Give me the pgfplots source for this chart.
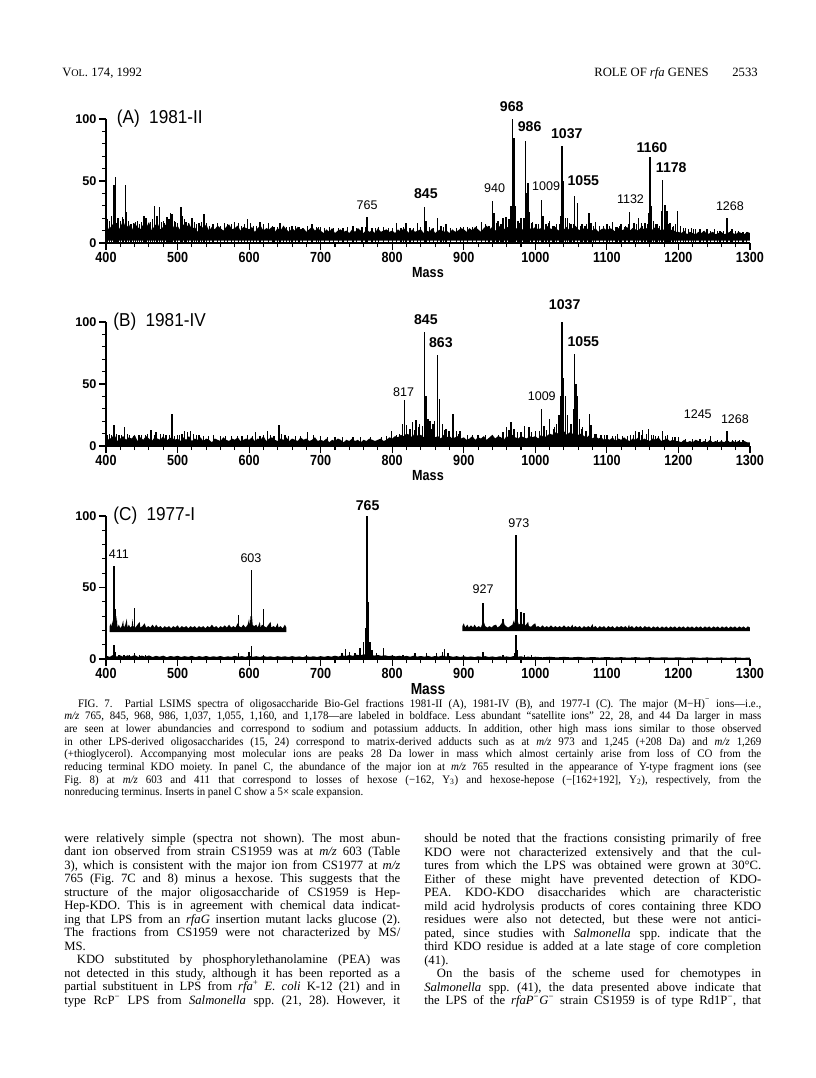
\documentclass[border=0pt]{standalone}
\usepackage{fontspec}
\usepackage{pgfplots}
\pgfplotsset{compat=1.18}
\setmainfont{Liberation Serif}
\newfontfamily\csans[FakeStretch=0.86]{Liberation Sans}
\newfontfamily\tsans[FakeStretch=0.92]{Liberation Sans}
\newfontfamily\nsans{Liberation Sans}
\newfontfamily\capserif[FakeStretch=0.95]{Liberation Serif}
\newcommand{\lb}{\nsans\bfseries\fontsize{10.6}{11}\selectfont}
\newcommand{\lr}{\nsans\fontsize{9.4}{10}\selectfont}
\newcommand{\ttl}{\tsans\fontsize{14}{15}\selectfont}
\frenchspacing
\pgfplotsset{
  spec/.style={
    scale only axis, width=483pt,
    xmin=400, xmax=1300, ymin=0, ymax=100,
    axis x line*=bottom, axis y line*=left,
    axis line style={line width=1.1pt},
    xtick={400,500,...,1300}, minor x tick num=4,
    ytick={0,50,100}, minor y tick num=4,
    tick align=outside, major tick length=5pt, minor tick length=3pt,
    tick style={line width=0.8pt, black},
    /pgf/number format/1000 sep={},
    /pgf/number format/assume math mode=true,
    xticklabel style={font=\csans\bfseries\fontsize{11}{12}\selectfont, inner sep=1.5pt},
    yticklabel style={font=\nsans\bfseries\fontsize{9.5}{10}\selectfont, inner sep=2pt},
    clip=false, unbounded coords=jump,
  },
  band/.style={fill=black, draw=none},
  peaks/.style={ycomb, mark=none, line width=1.05pt, black},
  fine/.style={ycomb, mark=none, line width=0.6pt, black},
  spikes/.style={mark=none, line width=1.05pt, black},
}
\begin{document}
\begin{tikzpicture}
\fill[white] (0,0) rectangle (612pt,-808.5pt);
\useasboundingbox (0,0) rectangle (612pt,-808.5pt);
% header
\node[anchor=base west, inner sep=0, font=\fontsize{9.5}{11}\selectfont] at (46.5pt,-57pt) {V{\fontsize{7.6}{9}\selectfont OL}. 174, 1992};
\node[anchor=base east, inner sep=0, font=\fontsize{9.5}{11}\selectfont] at (531.75pt,-57pt) {ROLE OF \textit{rfa} GENES};
\node[anchor=base east, inner sep=0, font=\fontsize{9.5}{11}\selectfont] at (568.5pt,-57pt) {2533};

% ---------------- Panel A
\begin{axis}[spec, at={(79.5pt,-182.25pt)}, anchor=south west, height=93pt]
\addplot[band] coordinates {(400,2)(400,16)(404,11)(408,14)(412,17)(416,9)(420,13)(424,18)(428,12)(432,15)(436,10)(440,16)(444,13)(448,11)(452,15)(456,12)(460,17)(464,10)(468,14)(472,16)(476,11)(480,13)(484,15)(488,12)(492,16)(496,11)
(500,14)(504,10)(508,15)(512,12)(516,16)(520,11)(524,13)(528,9)(532,14)(536,12)(540,15)(544,10)(548,13)(552,11)(556,14)(560,12)(564,10)(568,13)(572,15)(576,11)(580,12)(584,14)(588,10)(592,13)(596,12)
(600,11)(604,13)(608,9)(612,12)(616,14)(620,10)(624,12)(628,11)(632,13)(636,9)(640,12)(644,10)(648,14)(652,11)(656,9)(660,12)(664,10)(668,13)(672,11)(676,12)(680,9)(684,11)(688,13)(692,10)(696,12)
(700,10)(704,8)(708,11)(712,9)(716,12)(720,8)(724,10)(728,11)(732,9)(736,10)(740,8)(744,11)(748,9)(752,12)(756,10)(760,8)(764,11)(768,9)(772,10)(776,8)(780,12)(784,9)(788,10)(792,11)(796,9)
(800,10)(804,8)(808,11)(812,9)(816,12)(820,10)(824,8)(828,11)(832,9)(836,10)(840,11)(844,8)(848,10)(852,9)(856,12)(860,8)(864,10)(868,11)(872,9)(876,10)(880,8)(884,11)(888,9)(892,10)(896,12)
(900,11)(904,9)(908,12)(912,10)(916,13)(920,11)(924,9)(928,12)(932,14)(936,11)(940,13)(944,10)(948,12)(952,15)(956,11)(960,13)(964,12)(968,14)(972,11)(976,13)(980,12)(984,10)(988,14)(992,12)(996,11)
(1000,13)(1004,11)(1008,12)(1012,10)(1016,14)(1020,12)(1024,11)(1028,13)(1032,10)(1036,12)(1040,11)(1044,13)(1048,10)(1052,12)(1056,14)(1060,11)(1064,10)(1068,12)(1072,11)(1076,13)(1080,10)(1084,12)(1088,9)(1092,11)(1096,12)
(1100,10)(1104,12)(1108,11)(1112,9)(1116,12)(1120,10)(1124,11)(1128,13)(1132,10)(1136,12)(1140,11)(1144,10)(1148,13)(1152,11)(1156,12)(1160,10)(1164,11)(1168,13)(1172,12)(1176,10)(1180,11)(1184,12)(1188,10)(1192,11)(1196,9)
(1200,9)(1204,8)(1208,10)(1212,7)(1216,9)(1220,8)(1224,7)(1228,9)(1232,8)(1236,10)(1240,7)(1244,8)(1248,9)(1252,7)(1256,8)(1260,9)(1264,7)(1268,8)(1272,9)(1276,8)(1280,7)(1284,9)(1288,8)(1292,7)(1296,9)(1300,8)(1300,2)};
\addplot[fine] coordinates {(402,19)(407,17)(414,16)(418,20)(425,19)(431,18)(438,16)(444,18)(447,15)(450,17)(459,16)(465,19)(478,17)(482,16)(495,18)(500,16)(510,19)(515,16)(524,17)(527,15)(533,17)(540,16)(548,15)(556,16)(560,14)(575,15)(585,16)(593,15)(602,16)(610,14)(620,15)(632,14)(639,13)(648,14)(656,13)(665,14)(675,12)(681,14)(697,13)(705,12)(712,13)(725,12)(738,13)(750,12)(762,13)(776,12)(788,13)(800,12)(815,13)(829,12)(840,13)(857,12)(871,13)(882,12)(895,13)(900,13)(918,14)(930,15)(945,16)(958,18)(978,16)(995,16)(1004,15)(1018,16)(1024,14)(1033,15)(1048,16)(1053,15)(1068,14)(1072,15)(1081,14)(1095,14)(1104,14)(1112,13)(1117,14)(1124,13)(1130,15)(1141,15)(1150,14)(1156,15)(1168,15)(1173,14)(1186,15)(1191,13)(1196,15)(1207,12)(1214,11)(1221,11)(1235,10)(1245,10)(1255,10)(1263,10)(1272,10)(1284,10)(1295,9)};
\addplot[peaks] coordinates {(405,18)(408,22)(411,47)(413,53)(416,20)(420,18)(423,21)(427,47)(429,25)(435,15)(441,17)(453,22)(456,20)(462,17)(468,30)(471,22)(475,29)(480,18)(485,21)(488,19)(490,24)(492,23)(497,17)(505,29)(507,22)(512,17)(520,20)(530,16)(537,23)(545,14)(550,15)(566,16)(570,15)(580,17)(589,14)(598,19)(606,14)(615,17)(627,16)(635,13)(643,16)(652,13)(660,14)(670,13)(688,15)(694,13)(700,13)(718,12)(731,12)(745,14)(758,13)(765,21)(772,12)(781,13)(795,12)(806,16)(812,12)(819,16)(825,12)(835,16)(845,29)(847,18)(852,13)(863,20)(868,14)(875,15)(890,12)(905,13)(912,13)(925,17)(935,14)(940,34)(942,24)(948,18)(952,15)(955,20)(959,21)(963,19)(966,30)(968,100)(970,85)(972,30)(976,18)(980,20)(984,20)(986,82)(988,40)(990,48)(992,25)(996,17)(1001,15)(1009,35)(1011,22)(1015,15)(1020,18)(1026,14)(1030,15)(1035,22)(1037,78)(1039,50)(1042,20)(1045,20)(1050,15)(1055,38)(1059,32)(1063,14)(1065,15)(1070,14)(1075,24)(1078,16)(1084,17)(1090,14)(1100,15)(1108,17)(1114,13)(1120,15)(1126,14)(1132,25)(1138,16)(1144,20)(1148,16)(1153,16)(1158,24)(1160,69)(1162,30)(1165,18)(1170,15)(1176,26)(1178,51)(1181,31)(1184,26)(1188,16)(1193,14)(1199,26)(1203,14)(1210,12)(1218,12)(1224,11)(1230,11)(1240,11)(1250,11)(1258,10)(1268,20)(1275,11)(1280,10)(1290,9)};
\node[anchor=west, font=\ttl, inner sep=0] at (axis cs:415,100) {(A)\hspace{7pt}1981-II};
\node[font=\lr] at (axis cs:765,30.6) {765};
\node[font=\lb] at (axis cs:847,39.5) {845};
\node[font=\lr] at (axis cs:943,44) {940};
\node[font=\lb] at (axis cs:967,109.7) {968};
\node[font=\lb] at (axis cs:992,93.5) {986};
\node[font=\lr] at (axis cs:1015,46) {1009};
\node[font=\lb] at (axis cs:1044,88) {1037};
\node[font=\lb] at (axis cs:1067,50) {1055};
\node[font=\lr] at (axis cs:1133,35.5) {1132};
\node[font=\lb] at (axis cs:1163,76.7) {1160};
\node[font=\lb] at (axis cs:1190,60.4) {1178};
\node[font=\lr] at (axis cs:1272,29.8) {1268};
\node[font=\csans\bfseries\fontsize{11}{12}\selectfont] at (axis cs:850,-24.2) {Mass};
\end{axis}

% ---------------- Panel B
\begin{axis}[spec, at={(79.5pt,-334.5pt)}, anchor=south west, height=93pt]
\addplot[band] coordinates {(400,1)(400,8)(404,5)(408,7)(412,9)(416,4)(420,6)(424,8)(428,5)(432,7)(436,6)(440,9)(444,4)(448,7)(452,5)(456,8)(460,6)(464,4)(468,7)(472,6)(476,5)(480,8)(484,4)(488,6)(492,7)(496,5)
(500,6)(504,4)(508,7)(512,5)(516,8)(520,4)(524,6)(528,5)(532,7)(536,4)(540,6)(544,5)(548,3)(552,6)(556,5)(560,4)(564,7)(568,5)(572,4)(576,6)(580,5)(584,7)(588,4)(592,5)(596,6)
(600,5)(604,7)(608,4)(612,6)(616,5)(620,8)(624,4)(628,6)(632,7)(636,5)(640,4)(644,6)(648,5)(652,7)(656,4)(660,6)(664,5)(668,4)(672,7)(676,5)(680,6)(684,4)(688,5)(692,7)(696,4)
(700,5)(704,4)(708,6)(712,3)(716,5)(720,4)(724,6)(728,5)(732,3)(736,5)(740,4)(744,6)(748,4)(752,5)(756,3)(760,5)(764,4)(768,6)(772,5)(776,4)(780,5)(784,6)(788,4)(792,5)(796,7)
(800,6)(804,8)(808,7)(812,9)(816,8)(820,10)(824,9)(828,7)(832,11)(836,8)(840,9)(844,7)(848,10)(852,8)(856,9)(860,7)(864,8)(868,6)(872,9)(876,7)(880,8)(884,6)(888,7)(892,8)(896,6)
(900,7)(904,5)(908,6)(912,8)(916,5)(920,7)(924,6)(928,8)(932,5)(936,7)(940,9)(944,6)(948,8)(952,7)(956,5)(960,8)(964,6)(968,9)(972,7)(976,6)(980,8)(984,7)(988,6)(992,8)(996,7)
(1000,8)(1004,6)(1008,9)(1012,7)(1016,8)(1020,10)(1024,9)(1028,11)(1032,10)(1036,8)(1040,12)(1044,9)(1048,11)(1052,10)(1056,8)(1060,9)(1064,10)(1068,8)(1072,7)(1076,9)(1080,6)(1084,8)(1088,6)(1092,7)(1096,5)
(1100,6)(1104,5)(1108,7)(1112,4)(1116,6)(1120,5)(1124,7)(1128,5)(1132,4)(1136,6)(1140,5)(1144,7)(1148,4)(1152,6)(1156,5)(1160,4)(1164,6)(1168,5)(1172,7)(1176,4)(1180,5)(1184,6)(1188,4)(1192,5)(1196,4)
(1200,4)(1204,3)(1208,5)(1212,3)(1216,4)(1220,3)(1224,5)(1228,4)(1232,3)(1236,4)(1240,3)(1244,5)(1248,3)(1252,4)(1256,3)(1260,4)(1264,3)(1268,5)(1272,3)(1276,4)(1280,3)(1284,4)(1288,3)(1292,4)(1296,3)(1300,3)(1300,1)};
\addplot[fine] coordinates {(402,9)(408,9)(415,10)(422,9)(430,10)(438,8)(450,9)(458,10)(467,9)(480,10)(488,9)(496,8)(503,9)(522,10)(527,9)(536,8)(550,9)(567,8)(583,8)(597,9)(604,8)(620,9)(630,9)(645,10)(655,8)(672,8)(690,9)(710,7)(730,7)(755,7)(792,8)(810,10)(831,13)(836,15)(855,14)(873,13)(878,12)(893,10)(912,9)(930,9)(948,9)(975,11)(995,11)(1005,12)(1027,15)(1064,14)(1072,12)(1082,10)(1096,9)(1112,8)(1128,8)(1137,9)(1148,9)(1162,9)(1168,8)(1182,8)(1192,7)(1200,7)(1220,6)(1238,6)(1260,5)(1275,5)(1285,5)};
\addplot[peaks] coordinates {(405,10)(411,17)(418,9)(426,15)(433,9)(446,9)(455,9)(463,13)(470,11)(476,10)(484,9)(492,26)(500,9)(506,10)(510,12)(514,11)(518,12)(530,9)(543,8)(560,8)(575,8)(590,8)(609,11)(615,8)(626,12)(635,8)(642,17)(650,9)(665,8)(682,11)(700,8)(720,7)(745,7)(770,7)(785,7)(799,12)(806,9)(814,18)(817,37)(820,17)(825,14)(828,19)(833,21)(838,18)(842,16)(845,92)(847,40)(850,22)(853,20)(857,18)(859,20)(863,73)(866,38)(870,18)(875,14)(880,12)(885,26)(890,12)(895,12)(905,9)(920,9)(940,9)(955,11)(960,15)(963,13)(966,19)(970,14)(980,11)(985,16)(991,15)(1000,12)(1009,30)(1012,16)(1016,13)(1020,22)(1025,14)(1030,18)(1033,25)(1035,40)(1037,100)(1039,55)(1042,40)(1045,25)(1050,18)(1053,30)(1055,74)(1057,50)(1059,40)(1062,22)(1066,15)(1070,12)(1076,26)(1078,17)(1085,10)(1092,9)(1100,9)(1108,8)(1115,10)(1122,8)(1133,9)(1140,12)(1145,11)(1150,13)(1155,10)(1158,14)(1165,9)(1172,8)(1178,12)(1185,9)(1195,7)(1210,6)(1230,6)(1245,8)(1255,5)(1268,12)(1280,5)(1290,5)};
\node[anchor=west, font=\ttl, inner sep=0] at (axis cs:410,100) {(B)\hspace{7pt}1981-IV};
\node[font=\lb] at (axis cs:847,101.6) {845};
\node[font=\lb] at (axis cs:1041,113.7) {1037};
\node[font=\lb] at (axis cs:868,83) {863};
\node[font=\lb] at (axis cs:1067,84) {1055};
\node[font=\lr] at (axis cs:816,43.8) {817};
\node[font=\lr] at (axis cs:1009,40.3) {1009};
\node[font=\lr] at (axis cs:1227,25.3) {1245};
\node[font=\lr] at (axis cs:1279,21.8) {1268};
\node[font=\csans\bfseries\fontsize{11}{12}\selectfont] at (axis cs:850,-24.2) {Mass};
\end{axis}

% ---------------- Panel C
\begin{axis}[spec, at={(79.5pt,-494.25pt)}, anchor=south west, height=107.25pt]
\addplot[band] coordinates {(400,0.3)(400,2.4)(405,1.5)(410,2.8)(415,1.7)(420,2.5)(425,1.4)(430,2.6)(435,1.8)(440,2.7)(445,1.5)(450,2.4)(455,1.6)(460,2.5)(465,1.4)(470,2.2)(475,1.6)(480,2.3)(485,1.3)(490,2.1)(495,1.6)
(500,2.2)(505,1.4)(510,2.0)(515,1.5)(520,2.2)(525,1.3)(530,2.0)(535,1.5)(540,2.1)(545,1.4)(550,1.9)(555,1.5)(560,2.1)(565,1.3)(570,1.9)(575,1.5)(580,2.2)(585,1.6)(590,2.0)(595,1.4)
(600,2.3)(605,1.5)(610,2.0)(615,1.4)(620,2.1)(625,1.5)(630,1.9)(635,1.3)(640,2.0)(645,1.5)(650,1.9)(655,1.4)(660,2.0)(665,1.5)(670,1.8)(675,1.3)(680,2.0)(685,1.5)(690,1.9)(695,1.4)
(700,2.0)(705,1.5)(710,2.1)(715,1.6)(720,2.3)(725,1.7)(730,2.6)(735,2.0)(740,2.8)(745,2.2)(750,3.0)(755,2.5)(760,3.2)(765,3.5)(770,3.0)(775,2.4)(780,2.8)(785,2.2)(790,2.6)(795,2.0)
(800,2.4)(805,1.8)(810,2.3)(815,1.7)(820,2.2)(825,1.6)(830,2.3)(835,1.7)(840,2.1)(845,1.6)(850,2.2)(855,1.5)(860,2.1)(865,1.7)(870,2.4)(875,1.8)(880,2.1)(885,1.5)(890,2.0)(895,1.4)
(900,1.9)(905,1.4)(910,1.8)(915,1.3)(920,1.9)(925,1.5)(930,2.0)(935,1.4)(940,1.8)(945,1.3)(950,1.9)(955,1.5)(960,1.8)(965,1.4)(970,2.1)(975,1.6)(980,1.9)(985,1.3)(990,1.7)(995,1.2)
(1000,1.6)(1010,1.2)(1020,1.6)(1030,1.1)(1040,1.5)(1050,1.1)(1060,1.5)(1070,1.0)(1080,1.4)(1090,1.0)(1100,1.4)(1110,1.0)(1120,1.3)(1130,0.9)(1140,1.3)(1150,0.9)(1160,1.3)(1170,0.9)(1180,1.2)(1190,0.9)
(1200,1.2)(1210,0.8)(1220,1.2)(1230,0.8)(1240,1.1)(1250,0.8)(1260,1.1)(1270,0.8)(1280,1.1)(1290,0.8)(1300,1.0)(1300,0.3)};
\addplot[peaks] coordinates {(411,10)(413,5)(418,3)(425,3)(433,3)(440,4)(447,3)(455,2.5)(585,4)(600,5)(603,9)(620,3)(680,3)(730,4)(735,7)(740,5)(748,4)(755,8)(760,12)(763,22)(764,60)(764.5,85)(765,100)(765.5,90)(766,40)(767,30)(769,12)(772,6)(778,4)(788,8)(800,3)(815,3)(832,4)(848,4)(862,4)(870,5)(873,7)(878,4)(900,3)(927,5)(955,3)(971,4)(973,17)(975,6)(985,3)(995,3)};
% insert left (5x)
\addplot[band] coordinates {(405,18.8)(405,23)(407,25)(408,22)(409,27)(410,23)(411,24)(412.5,35)(413.5,23)(415,30)(416,22)(418,24)(420,21.5)(422,23)(424,27)(425,22)(427,24)(429,28)(430,22)(432,24)(434,22)(436,23)(437,28)(438,23)(441,22)(444,24)(447,26)(448,22)(451,23)(454,25)(456,22)(459,23)(462,22)(465,24)(468,22)(470,24)(473,22)(476,23)(479,21.5)(482,23)(485,22)(488,23)(491,21.5)(494,23)(497,22)(500,23.5)(503,21.5)(506,23)(509,22)(512,23)(515,21.5)(518,23)(521,22)(524,23)(527,21.5)(530,23)(533,22)(536,23)(539,21.5)(542,23)(545,22)(548,24)(551,22)(554,23)(557,21.5)(560,23)(563,22)(566,23.5)(569,22)(572,24)(575,22)(578,23)(581,22)(584,25)(586,23)(589,22)(592,24)(595,22)(598,24)(600,28)(601,23)(602,30)(604,30)(605,24)(607,23)(610,24)(612,22)(615,26)(616,22)(618,24)(621,23)(624,22)(627,24)(630,26)(631,22)(634,23)(637,22)(640,25)(641,22)(644,23)(647,21.5)(650,24)(652,22)(652,18.8)};
\addplot[spikes] coordinates {(411,22)(411,65) (411,nan) (413,22)(413,35) (413,nan) (440,22)(440,36) (440,nan) (585,22)(585,31) (585,nan) (603,22)(603,62) (603,nan) (620,22)(620,35)};
% insert right (5x)
\addplot[band] coordinates {(898,19.5)(898,23)(900,25)(902,22)(905,24)(907,22)(910,23.5)(913,22)(915,24)(918,22)(921,23)(924,22)(926,25)(928,26)(930,23)(933,22)(936,23)(939,22)(942,23.5)(945,24)(947,22)(950,23)(953,25)(955,28)(957,24)(959,23)(962,22)(965,23)(968,24)(970,27)(971,24)(972,30)(974,35)(975,27)(977,24)(979.5,25)(980,33)(981,24)(983.5,25)(984,32)(985,23)(987,24)(990,26)(991,23)(994,22.5)(997,24)(1000,25)(1001,22.5)(1004,23)(1007,22)(1010,23.5)(1013,22)(1016,23)(1019,22)(1022,23.5)(1025,22)(1028,23)(1031,22)(1034,23)(1037,22)(1040,23.5)(1043,22)(1046,23)(1049,22)(1052,24)(1053,22)(1056,23)(1059,22)(1062,23)(1065,21.5)(1068,23)(1071,22)(1074,23)(1077,22)(1080,24.5)(1081,22)(1084,23)(1087,21.5)(1090,23)(1093,22)(1096,23)(1099,21.5)(1102,23)(1105,22)(1108,23)(1111,21.5)(1114,23)(1117,22)(1120,23)(1123,22)(1126,23)(1129,21.5)(1131,24)(1132,22)(1135,23)(1138,21.5)(1141,23)(1144,22)(1147,23)(1150,21.5)(1153,23)(1156,22)(1159,22.8)(1162,21.5)(1165,22.8)(1168,21.8)(1171,22.8)(1174,21.5)(1177,22.8)(1180,21.8)(1183,22.8)(1186,21.5)(1189,22.8)(1192,21.8)(1195,22.8)(1198,21.5)(1201,22.8)(1204,21.8)(1207,22.8)(1210,21.5)(1213,22.8)(1216,21.8)(1219,22.8)(1222,21.5)(1225,22.8)(1228,21.8)(1231,22.8)(1234,21.5)(1237,22.8)(1240,21.8)(1243,22.8)(1246,21.5)(1249,22.8)(1252,21.8)(1255,22.8)(1258,21.5)(1261,22.8)(1264,21.8)(1267,22.8)(1270,21.5)(1273,22.8)(1276,21.8)(1279,22.8)(1282,21.5)(1285,22.8)(1288,21.8)(1291,22.8)(1294,21.5)(1297,22.8)(1300,22)(1300,19.5)};
\addplot[spikes] coordinates {(927,22)(927,39) (927,nan) (955,22)(955,28) (955,nan) (973,22)(973,87) (973,nan) (974.5,22)(974.5,35) (974.5,nan) (980,22)(980,33) (980,nan) (984,22)(984,32)};
\node[anchor=west, font=\ttl, inner sep=0] at (axis cs:410,100) {(C)\hspace{7pt}1977-I};
\node[font=\lb] at (axis cs:765.6,107.2) {765};
\node[font=\lr] at (axis cs:977,94.9) {973};
\node[font=\lr] at (axis cs:418,73.2) {411};
\node[font=\lr] at (axis cs:602.6,70.4) {603};
\node[font=\lr] at (axis cs:927,49) {927};
\node[font=\csans\bfseries\fontsize{12}{13}\selectfont] at (axis cs:850,-21) {Mass};
\end{axis}

% caption
\node[anchor=north west, inner sep=0, text width=522.75pt, align=justify, font=\capserif\fontsize{8.6}{9.5}\selectfont] at (48pt,-524pt) {%
\hspace*{1.2em}FIG. 7.\ \ Partial LSIMS spectra of oligosaccharide Bio-Gel fractions 1981-II (A), 1981-IV (B), and 1977-I (C). The major (M−H)\textsuperscript{−} ions—i.e.,\linebreak
\textit{m/z} 765, 845, 968, 986, 1,037, 1,055, 1,160, and 1,178—are labeled in boldface. Less abundant “satellite ions” 22, 28, and 44 Da larger in mass\linebreak
are seen at lower abundancies and correspond to sodium and potassium adducts. In addition, other high mass ions similar to those observed\linebreak
in other LPS-derived oligosaccharides (15, 24) correspond to matrix-derived adducts such as at \textit{m/z} 973 and 1,245 (+208 Da) and \textit{m/z} 1,269\linebreak
(+thioglycerol). Accompanying most molecular ions are peaks 28 Da lower in mass which almost certainly arise from loss of CO from the\linebreak
reducing terminal KDO moiety. In panel C, the abundance of the major ion at \textit{m/z} 765 resulted in the appearance of Y-type fragment ions (see\linebreak
Fig. 8) at \textit{m/z} 603 and 411 that correspond to losses of hexose (−162, Y\textsubscript{3}) and hexose-hepose (−[162+192], Y\textsubscript{2}), respectively, from the\linebreak
nonreducing terminus. Inserts in panel C show a 5× scale expansion.};

% body text, left column
\node[anchor=north west, inner sep=0, text width=252pt, align=justify, font=\fontsize{9.5}{10.125}\selectfont] at (48pt,-625pt) {%
were relatively simple (spectra not shown). The most abun-\linebreak
dant ion observed from strain CS1959 was at \textit{m/z} 603 (Table\linebreak
3), which is consistent with the major ion from CS1977 at \textit{m/z}\linebreak
765 (Fig. 7C and 8) minus a hexose. This suggests that the\linebreak
structure of the major oligosaccharide of CS1959 is Hep-\linebreak
Hep-KDO. This is in agreement with chemical data indicat-\linebreak
ing that LPS from an \textit{rfaG} insertion mutant lacks glucose (2).\linebreak
The fractions from CS1959 were not characterized by MS/\linebreak
MS.\newline
\hspace*{1em}KDO substituted by phosphorylethanolamine (PEA) was\linebreak
not detected in this study, although it has been reported as a\linebreak
partial substituent in LPS from \textit{rfa}\textsuperscript{+} \textit{E. coli} K-12 (21) and in\linebreak
type RcP\textsuperscript{−} LPS from \textit{Salmonella} spp. (21, 28). However, it\linebreak\null};

% body text, right column
\node[anchor=north west, inner sep=0, text width=252.75pt, align=justify, font=\fontsize{9.5}{10.125}\selectfont] at (318pt,-625pt) {%
should be noted that the fractions consisting primarily of free\linebreak
KDO were not characterized extensively and that the cul-\linebreak
tures from which the LPS was obtained were grown at 30°C.\linebreak
Either of these might have prevented detection of KDO-\linebreak
PEA. KDO-KDO disaccharides which are characteristic\linebreak
mild acid hydrolysis products of cores containing three KDO\linebreak
residues were also not detected, but these were not antici-\linebreak
pated, since studies with \textit{Salmonella} spp. indicate that the\linebreak
third KDO residue is added at a late stage of core completion\linebreak
(41).\newline
\hspace*{1em}On the basis of the scheme used for chemotypes in\linebreak
\textit{Salmonella} spp. (41), the data presented above indicate that\linebreak
the LPS of the \textit{rfaP}\textsuperscript{−}\textit{G}\textsuperscript{−} strain CS1959 is of type Rd1P\textsuperscript{−}, that\linebreak\null};
\end{tikzpicture}
\end{document}
